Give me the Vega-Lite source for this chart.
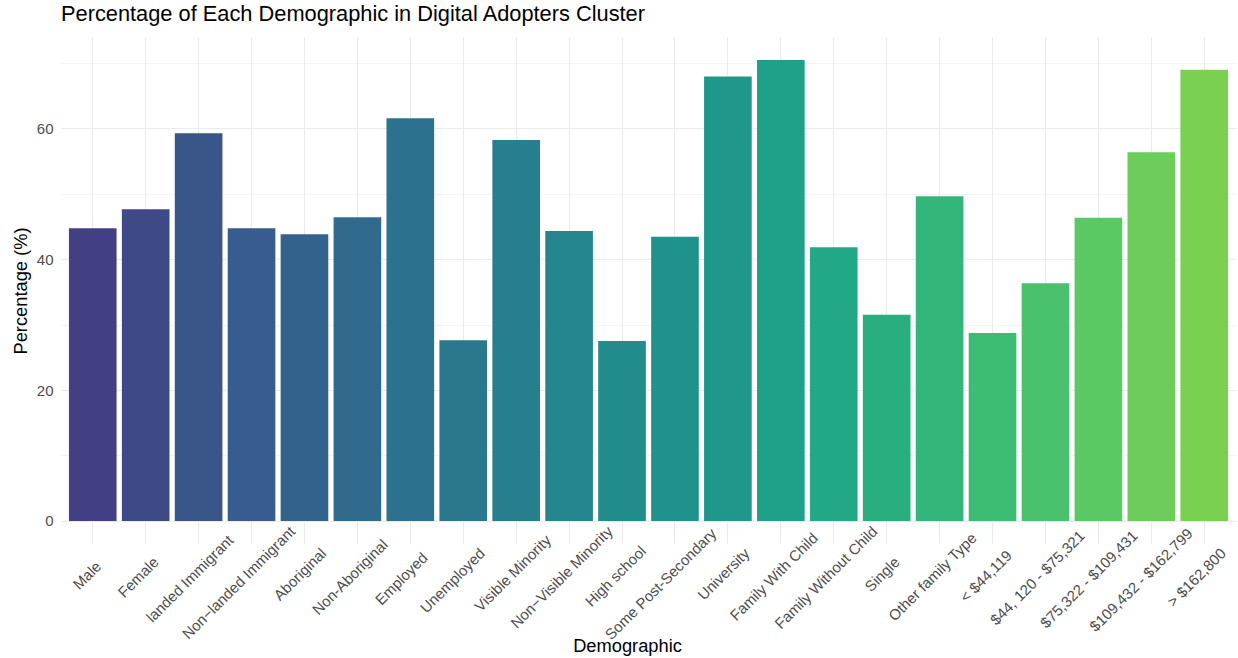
{
  "$schema": "https://vega.github.io/schema/vega-lite/v6.json",
  "width": 1175,
  "height": 507,
  "autosize": "none",
  "padding": {"left": 61, "top": 37, "right": 2, "bottom": 114},
  "background": "white",
  "config": {
    "font": "Liberation Sans",
    "view": {"stroke": null}
  },
  "title": {
    "text": "Percentage of Each Demographic in Digital Adopters Cluster",
    "anchor": "start",
    "frame": "group",
    "font": "Liberation Sans",
    "fontSize": 21.8,
    "fontWeight": "normal",
    "color": "black",
    "baseline": "alphabetic",
    "offset": 14,
    "dy": 20
  },
  "data": {
    "values": [
      {"Demographic": "Male", "Percentage": 44.7},
      {"Demographic": "Female", "Percentage": 47.6},
      {"Demographic": "landed Immigrant", "Percentage": 59.2},
      {"Demographic": "Non\u2212landed Immigrant", "Percentage": 44.7},
      {"Demographic": "Aboriginal", "Percentage": 43.8},
      {"Demographic": "Non-Aboriginal", "Percentage": 46.4},
      {"Demographic": "Employed", "Percentage": 61.5},
      {"Demographic": "Unemployed", "Percentage": 27.6},
      {"Demographic": "Visible Minority", "Percentage": 58.2},
      {"Demographic": "Non\u2212Visible Minority", "Percentage": 44.3},
      {"Demographic": "High school", "Percentage": 27.5},
      {"Demographic": "Some Post-Secondary", "Percentage": 43.4},
      {"Demographic": "University", "Percentage": 67.9},
      {"Demographic": "Family With Child", "Percentage": 70.4},
      {"Demographic": "Family Without Child", "Percentage": 41.8},
      {"Demographic": "Single", "Percentage": 31.5},
      {"Demographic": "Other family Type", "Percentage": 49.6},
      {"Demographic": "< $44,119", "Percentage": 28.7},
      {"Demographic": "$44, 120 - $75,321", "Percentage": 36.3},
      {"Demographic": "$75,322 - $109,431", "Percentage": 46.3},
      {"Demographic": "$109,432 - $162,799", "Percentage": 56.3},
      {"Demographic": "> $162,800", "Percentage": 68.9}
    ]
  },
  "mark": {"type": "bar", "strokeWidth": 0},
  "encoding": {
    "x": {
      "field": "Demographic",
      "type": "nominal",
      "sort": null,
      "scale": {"paddingInner": 0.1, "paddingOuter": 0.15},
      "axis": {
        "title": "Demographic",
        "titleFont": "Liberation Sans",
        "titleFontSize": 18.3,
        "titleFontWeight": "normal",
        "titleColor": "black",
        "titleX": 566,
        "titleY": 107,
        "titleAlign": "center",
        "titleBaseline": "alphabetic",
        "domain": false,
        "ticks": false,
        "tickSize": 0,
        "grid": true,
        "gridColor": "#EBEBEB",
        "gridWidth": 1.1,
        "bandPosition": 0.5,
        "labelAngle": -45,
        "labelAlign": "right",
        "labelBaseline": "top",
        "labelFontSize": 15,
        "labelColor": "#4D4D4D",
        "labelOverlap": false,
        "labelLimit": 300,
        "labelOffset": {
          "condition": [
            {"test": "length(datum.label) <= 4", "value": 1.0},
            {"test": "length(datum.label) <= 6", "value": 5.4},
            {"test": "length(datum.label) <= 8", "value": 9.8},
            {"test": "length(datum.label) <= 9", "value": 12.0},
            {"test": "length(datum.label) <= 10", "value": 14.2},
            {"test": "length(datum.label) <= 11", "value": 16.4},
            {"test": "length(datum.label) <= 14", "value": 22.9},
            {"test": "length(datum.label) <= 16", "value": 27.3},
            {"test": "length(datum.label) <= 17", "value": 29.5},
            {"test": "length(datum.label) <= 18", "value": 31.7},
            {"test": "length(datum.label) <= 19", "value": 33.9}
          ],
          "value": 36.1
        },
        "labelPadding": {
          "condition": [
            {"test": "length(datum.label) <= 4", "value": 14.6},
            {"test": "length(datum.label) <= 6", "value": 10.2},
            {"test": "length(datum.label) <= 8", "value": 5.8},
            {"test": "length(datum.label) <= 9", "value": 3.6},
            {"test": "length(datum.label) <= 10", "value": 1.4},
            {"test": "length(datum.label) <= 11", "value": -0.8},
            {"test": "length(datum.label) <= 14", "value": -7.3},
            {"test": "length(datum.label) <= 16", "value": -11.7},
            {"test": "length(datum.label) <= 17", "value": -13.9},
            {"test": "length(datum.label) <= 18", "value": -16.1},
            {"test": "length(datum.label) <= 19", "value": -18.3}
          ],
          "value": -20.5
        }
      }
    },
    "y": {
      "field": "Percentage",
      "type": "quantitative",
      "scale": {"domain": [-3.52, 73.92], "nice": false, "zero": false},
      "axis": {
        "title": "Percentage (%)",
        "titleFont": "Liberation Sans",
        "titleFontSize": 18.3,
        "titleFontWeight": "normal",
        "titleColor": "black",
        "titlePadding": 6,
        "values": [0, 10, 20, 30, 40, 50, 60, 70],
        "labelExpr": "datum.value % 20 === 0 ? datum.label : ''",
        "domain": false,
        "ticks": false,
        "tickSize": 0,
        "grid": true,
        "gridColor": "#EBEBEB",
        "gridWidth": {"condition": {"test": "datum.value % 20 === 0", "value": 1.1}, "value": 0.55},
        "labelPadding": 8,
        "labelFontSize": 15,
        "labelColor": "#4D4D4D"
      }
    },
    "color": {
      "field": "Demographic",
      "type": "nominal",
      "sort": null,
      "scale": {"range": ["#433F85", "#3E4A87", "#3A5689", "#365D8D", "#33638D", "#306B8E", "#2C728E", "#2A788E", "#277F8E", "#25858E", "#228C8D", "#20928C", "#1F988B", "#1FA088", "#22A884", "#29AF7F", "#33B67A", "#3DBC74", "#4AC16D", "#5AC864", "#6CCD5A", "#7AD151"]},
      "legend": null
    }
  }
}
